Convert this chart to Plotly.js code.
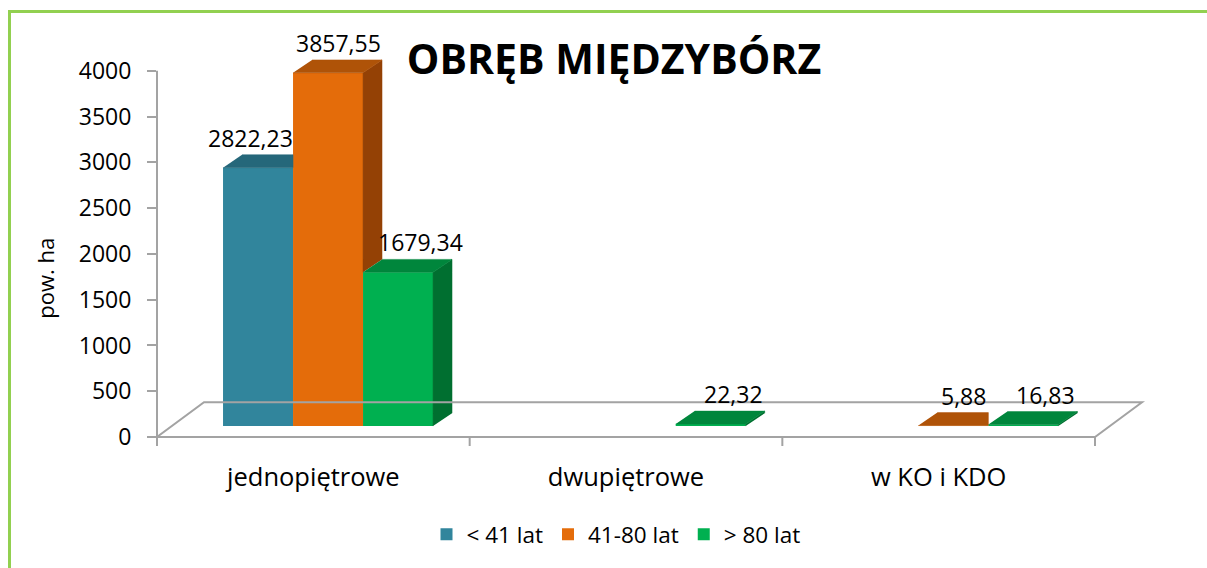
<!DOCTYPE html>
<html><head><meta charset="utf-8">
<script src="https://cdn.plot.ly/plotly-3.0.1.min.js"></script>
<style>
html,body{margin:0;padding:0;background:#fff;overflow:hidden}
#wrap{position:relative;width:1207px;height:568px;overflow:hidden}
#chart{width:1207px;height:568px}
#frame{position:absolute;left:8px;top:10px;width:1400px;height:800px;border:3px solid #92D050;pointer-events:none}
</style></head><body>
<div id="wrap"><div id="chart"></div><div id="frame"></div></div>
<script>
// ---- data ----
const categories = ['jednopiętrowe', 'dwupiętrowe', 'w KO i KDO'];
const seriesNames = ['< 41 lat', '41-80 lat', '> 80 lat'];
const under41 = [2822.23, null, null];
const from41to80 = [3857.55, null, 5.88];
const over80 = [1679.34, 22.32, 16.83];
const yTickVals = [0, 500, 1000, 1500, 2000, 2500, 3000, 3500, 4000];
const chartTitle = 'OBRĘB MIĘDZYBÓRZ';
const yTitle = 'pow. ha';

// ---- layout geometry ----
const L = 157, R = 1153, T = 20, B = 448, WIDTH = 1207, HEIGHT = 568;
const AXIS_TOP_PX = 71, AXIS_ZERO_PX = 439;
const PXX = 312.67;                                   // px per category
const PXY = (AXIS_ZERO_PX - AXIS_TOP_PX) / 4000;      // px per unit
const YMIN = -(B - AXIS_ZERO_PX) / PXY;
const YMAX = 4000 + (AXIS_TOP_PX - T) / PXY;
const XMAX = -0.5 + (R - L) / PXX;
const W = 70 / PXX;            // bar width
const SHIFT = 0.047;           // perspective shift of bar group
const BASE = 11 / PXY;         // bars stand slightly inside floor
const DX = 19 / PXX, DY = 13 / PXY;     // bar depth
const DXF = 47 / PXX, DYF = 35 / PXY;   // floor depth
const FRONT = ['#31859C', '#E46C0A', '#00B050'];
const TOPC = ['#25677A', '#AF5308', '#00863C'];
const SIDEC = ['#1E5766', '#944105', '#006F30'];
const LABEL_XSHIFT = [-17, 1, 13];
const GRAY = '#a3a3a3';
const FONT = 'Open Sans, Arial, sans-serif';
const px2paperX = p => (p - L) / (R - L);
const px2paperY = p => (B - p) / (B - T);

const series = [under41, from41to80, over80];
const traces = [];
const tops = [], sides = [];
const annotations = [];
const fmt = v => v.toFixed(2).replace('.', ',');

series.forEach((vals, j) => {
  traces.push({
    type: 'bar', name: seriesNames[j],
    x: categories.map((_, i) => i + SHIFT + (j - 1) * W),
    y: vals, base: BASE, width: W,
    marker: {color: FRONT[j], line: {width: 0}}, hoverinfo: 'skip'
  });
  const tx = [], ty = [], sx = [], sy = [];
  vals.forEach((v, i) => {
    if (v === null) return;
    const x0 = i + SHIFT + (j - 1.5) * W, x1 = x0 + W, top = BASE + v;
    const nv = j + 1 < series.length ? series[j + 1][i] : null;
    const nTop = nv === null ? null : BASE + nv;
    if (nTop !== null && nTop > top) {
      tx.push(x0, x1, x1, x0 + DX, null); ty.push(top, top, top + DY, top + DY, null);
    } else {
      tx.push(x0, x1, x1 + DX, x0 + DX, null); ty.push(top, top, top + DY, top + DY, null);
    }
    if (!(nTop !== null && nTop >= top)) {
      const bot = nTop === null ? BASE : nTop;
      sx.push(x1, x1, x1 + DX, x1 + DX, null); sy.push(bot, top, top + DY, bot + DY, null);
    }
    annotations.push({
      x: x0 + (W + DX) / 2, y: top + DY, xref: 'x', yref: 'y',
      text: fmt(v), showarrow: false, xanchor: 'center', yanchor: 'middle',
      xshift: LABEL_XSHIFT[j], yshift: 17,
      font: {family: FONT, size: 23, color: '#000'}
    });
  });
  tops.push({type: 'scatter', mode: 'lines', x: tx, y: ty, fill: 'toself',
    fillcolor: TOPC[j], line: {width: 0.5, color: TOPC[j]}, showlegend: false, hoverinfo: 'skip'});
  sides.push({type: 'scatter', mode: 'lines', x: sx, y: sy, fill: 'toself',
    fillcolor: SIDEC[j], line: {width: 0.5, color: SIDEC[j]}, showlegend: false, hoverinfo: 'skip'});
});

annotations.push({
  xref: 'paper', yref: 'paper', x: px2paperX(45), y: px2paperY(280),
  text: yTitle, textangle: -90, showarrow: false, xanchor: 'center', yanchor: 'middle',
  font: {family: FONT, size: 22, color: '#000'}
});

const shapes = [{
  type: 'path', xref: 'x', yref: 'y',
  path: `M ${-0.5},0 L ${categories.length - 0.5},0 L ${categories.length - 0.5 + DXF},${DYF} L ${-0.5 + DXF},${DYF} Z`,
  line: {color: GRAY, width: 2}, fillcolor: 'rgba(0,0,0,0)'
}, {
  // value axis line
  type: 'line', xref: 'paper', yref: 'y', x0: 0, x1: 0,
  y0: YMIN, y1: yTickVals[yTickVals.length - 1], line: {color: GRAY, width: 2}
}];
for (let i = 1; i <= categories.length; i++) {
  shapes.push({type: 'line', xref: 'x', yref: 'y', x0: i - 0.5, x1: i - 0.5, y0: 0, y1: YMIN,
    line: {color: GRAY, width: 2}});
}

const layout = {
  width: WIDTH, height: HEIGHT, autosize: false,
  margin: {l: L, r: WIDTH - R, t: T, b: HEIGHT - B, pad: 0},
  paper_bgcolor: '#fff', plot_bgcolor: 'rgba(0,0,0,0)',
  font: {family: FONT, color: '#000'},
  barmode: 'overlay',
  title: {text: chartTitle, font: {family: FONT, size: 41, weight: 700, color: '#000'},
    xref: 'container', yref: 'container', x: 614 / WIDTH, y: 1 - 60 / HEIGHT,
    xanchor: 'center', yanchor: 'middle'},
  xaxis: {range: [-0.5, XMAX], showgrid: false, zeroline: false, showline: false,
    tickmode: 'array', tickvals: categories.map((_, i) => i), ticktext: categories,
    ticks: '', tickfont: {family: FONT, size: 25.5, color: '#000'}, ticklabelstandoff: 13, fixedrange: true},
  yaxis: {range: [YMIN, YMAX], showgrid: false, zeroline: false, showline: false,
    ticks: 'outside', ticklen: 9, tickcolor: GRAY, tickwidth: 2,
    tickmode: 'array', tickvals: yTickVals, ticktext: yTickVals.map(String),
    tickfont: {family: FONT, size: 23, color: '#000'}, ticklabelstandoff: 11, fixedrange: true},
  showlegend: true,
  legend: {orientation: 'h', x: px2paperX(616), xanchor: 'center', y: px2paperY(537), yanchor: 'middle',
    font: {family: FONT, size: 22.5, color: '#000'}, traceorder: 'normal', itemwidth: 30},
  shapes: shapes, annotations: annotations
};

Plotly.newPlot('chart', traces.concat(sides, tops), layout, {staticPlot: true, displayModeBar: false});
</script>
</body></html>
